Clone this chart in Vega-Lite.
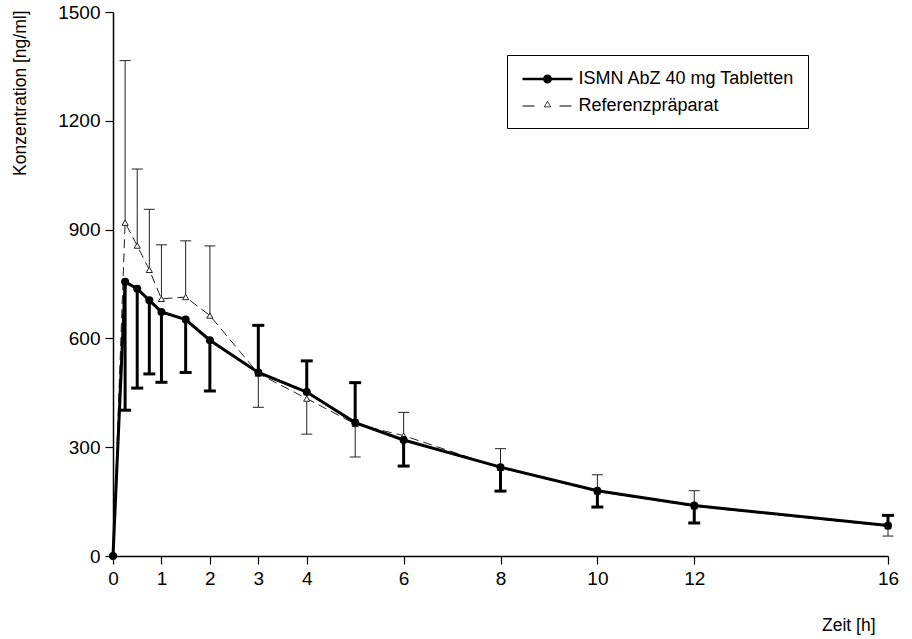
{
  "$schema": "https://vega.github.io/schema/vega-lite/v6.json",
  "width": 775,
  "height": 544,
  "autosize": {"type": "none"},
  "padding": {"left": 113, "top": 12, "right": 24, "bottom": 83},
  "background": "white",
  "config": {
    "view": {"stroke": null},
    "font": "Liberation Sans",
    "axis": {
      "grid": false,
      "domainColor": "black",
      "domainWidth": 1.5,
      "tickColor": "black",
      "tickWidth": 1.2,
      "tickSize": 8,
      "labelFont": "Liberation Sans",
      "labelFontSize": 19,
      "labelColor": "black",
      "labelPadding": 5,
      "labelFlush": false,
      "labelOverlap": false,
      "format": "d",
      "titleFont": "Liberation Sans",
      "titleFontWeight": "normal",
      "titleFontSize": 17.5,
      "titleColor": "black"
    },
    "axisX": {
      "titleX": 762,
      "titleY": 69,
      "titleAlign": "right",
      "titleBaseline": "middle",
      "titleAnchor": "end"
    },
    "axisY": {
      "titleX": -93,
      "titleY": -2,
      "titleAngle": -90,
      "titleAlign": "right",
      "titleBaseline": "middle",
      "titleAnchor": "end"
    },
    "legend": {
      "labelFont": "Liberation Sans",
      "labelFontSize": 18,
      "labelColor": "black",
      "labelLimit": 0
    }
  },
  "data": {
    "values": [
      {"t": 0, "series": "ISMN AbZ 40 mg Tabletten", "mean": 0, "bar": null},
      {"t": 0.25, "series": "ISMN AbZ 40 mg Tabletten", "mean": 756, "bar": 402},
      {"t": 0.5, "series": "ISMN AbZ 40 mg Tabletten", "mean": 737, "bar": 463},
      {"t": 0.75, "series": "ISMN AbZ 40 mg Tabletten", "mean": 705, "bar": 502},
      {"t": 1, "series": "ISMN AbZ 40 mg Tabletten", "mean": 673, "bar": 479},
      {"t": 1.5, "series": "ISMN AbZ 40 mg Tabletten", "mean": 652, "bar": 506},
      {"t": 2, "series": "ISMN AbZ 40 mg Tabletten", "mean": 595, "bar": 455},
      {"t": 3, "series": "ISMN AbZ 40 mg Tabletten", "mean": 506, "bar": 636},
      {"t": 4, "series": "ISMN AbZ 40 mg Tabletten", "mean": 452, "bar": 538},
      {"t": 5, "series": "ISMN AbZ 40 mg Tabletten", "mean": 368, "bar": 478},
      {"t": 6, "series": "ISMN AbZ 40 mg Tabletten", "mean": 320, "bar": 248},
      {"t": 8, "series": "ISMN AbZ 40 mg Tabletten", "mean": 245, "bar": 179},
      {"t": 10, "series": "ISMN AbZ 40 mg Tabletten", "mean": 180, "bar": 135},
      {"t": 12, "series": "ISMN AbZ 40 mg Tabletten", "mean": 139, "bar": 91},
      {"t": 16, "series": "ISMN AbZ 40 mg Tabletten", "mean": 84, "bar": 112},
      {"t": 0, "series": "Referenzpräparat", "mean": 0, "bar": null},
      {"t": 0.25, "series": "Referenzpräparat", "mean": 919, "bar": 1366},
      {"t": 0.5, "series": "Referenzpräparat", "mean": 856, "bar": 1067},
      {"t": 0.75, "series": "Referenzpräparat", "mean": 789, "bar": 956},
      {"t": 1, "series": "Referenzpräparat", "mean": 709, "bar": 858},
      {"t": 1.5, "series": "Referenzpräparat", "mean": 714, "bar": 869},
      {"t": 2, "series": "Referenzpräparat", "mean": 663, "bar": 855},
      {"t": 3, "series": "Referenzpräparat", "mean": 503, "bar": 410},
      {"t": 4, "series": "Referenzpräparat", "mean": 434, "bar": 336},
      {"t": 5, "series": "Referenzpräparat", "mean": 364, "bar": 273},
      {"t": 6, "series": "Referenzpräparat", "mean": 332, "bar": 396},
      {"t": 8, "series": "Referenzpräparat", "mean": 243, "bar": 296},
      {"t": 10, "series": "Referenzpräparat", "mean": 178, "bar": 224},
      {"t": 12, "series": "Referenzpräparat", "mean": 137, "bar": 180},
      {"t": 16, "series": "Referenzpräparat", "mean": 82, "bar": 55}
    ]
  },
  "encoding": {
    "x": {
      "field": "t", "type": "quantitative",
      "scale": {"domain": [0, 16], "nice": false, "zero": false},
      "axis": {"values": [0, 1, 2, 3, 4, 6, 8, 10, 12, 16], "title": "Zeit [h]", "labelFlush": false}
    }
  },
  "layer": [
    {
      "transform": [{"filter": "datum.series === 'Referenzpräparat'"}],
      "mark": {"type": "line", "color": "#222", "strokeWidth": 1, "strokeDash": [9, 5]},
      "encoding": {
        "y": {
          "field": "mean", "type": "quantitative",
          "scale": {"domain": [0, 1500], "nice": false},
          "axis": {"values": [0, 300, 600, 900, 1200, 1500], "title": "Konzentration [ng/ml]"}
        }
      }
    },
    {
      "transform": [{"filter": "datum.series === 'Referenzpräparat' && datum.bar != null"}],
      "mark": {"type": "rule", "color": "#222", "strokeWidth": 1},
      "encoding": {
        "y": {"field": "mean", "type": "quantitative", "axis": {"values": [0, 300, 600, 900, 1200, 1500], "title": "Konzentration [ng/ml]"}},
        "y2": {"field": "bar"}
      }
    },
    {
      "transform": [{"filter": "datum.series === 'Referenzpräparat' && datum.bar != null"}],
      "mark": {"type": "tick", "orient": "horizontal", "color": "#222", "thickness": 1, "size": 11, "opacity": 1},
      "encoding": {
        "y": {"field": "bar", "type": "quantitative", "axis": {"values": [0, 300, 600, 900, 1200, 1500], "title": "Konzentration [ng/ml]"}}
      }
    },
    {
      "transform": [{"filter": "datum.series === 'ISMN AbZ 40 mg Tabletten' && datum.bar != null"}],
      "mark": {"type": "rule", "color": "black", "strokeWidth": 3},
      "encoding": {
        "y": {"field": "mean", "type": "quantitative", "axis": {"values": [0, 300, 600, 900, 1200, 1500], "title": "Konzentration [ng/ml]"}},
        "y2": {"field": "bar"}
      }
    },
    {
      "transform": [{"filter": "datum.series === 'ISMN AbZ 40 mg Tabletten' && datum.bar != null"}],
      "mark": {"type": "tick", "orient": "horizontal", "color": "black", "thickness": 3, "size": 12, "opacity": 1},
      "encoding": {
        "y": {"field": "bar", "type": "quantitative", "axis": {"values": [0, 300, 600, 900, 1200, 1500], "title": "Konzentration [ng/ml]"}}
      }
    },
    {
      "transform": [{"filter": "datum.series === 'ISMN AbZ 40 mg Tabletten'"}],
      "mark": {"type": "line", "color": "black", "strokeWidth": 3},
      "encoding": {
        "y": {"field": "mean", "type": "quantitative", "axis": {"values": [0, 300, 600, 900, 1200, 1500], "title": "Konzentration [ng/ml]"}}
      }
    },
    {
      "transform": [{"filter": "datum.series === 'Referenzpräparat' && datum.t > 0"}],
      "mark": {"type": "point", "shape": "triangle-up", "size": 38, "filled": true, "fill": "white", "stroke": "#222", "strokeWidth": 1, "opacity": 1},
      "encoding": {
        "y": {"field": "mean", "type": "quantitative", "axis": {"values": [0, 300, 600, 900, 1200, 1500], "title": "Konzentration [ng/ml]"}}
      }
    },
    {
      "transform": [{"filter": "datum.series === 'ISMN AbZ 40 mg Tabletten'"}],
      "mark": {"type": "circle", "size": 64, "color": "black", "opacity": 1},
      "encoding": {
        "y": {"field": "mean", "type": "quantitative", "axis": {"values": [0, 300, 600, 900, 1200, 1500], "title": "Konzentration [ng/ml]"}}
      }
    },
    {
      "transform": [{"filter": "datum.t < 0"}],
      "mark": {"type": "point", "filled": true, "color": "black", "opacity": 1},
      "encoding": {
        "x": {"field": "t", "type": "quantitative"},
        "shape": {
          "field": "series", "type": "nominal",
          "scale": {
            "domain": ["ISMN AbZ 40 mg Tabletten", "Referenzpräparat"],
            "range": [
              "M-2.5,-0.13H2.5V0.13H-2.5Z M-0.45,0A0.45,0.45 0 1,1 0.45,0A0.45,0.45 0 1,1 -0.45,0Z",
              "M-2.5,-0.06H-1.3V0.06H-2.5Z M1.2,-0.06H2.4V0.06H1.2Z M-0.38,0.12L0,-0.52L0.38,0.12Z M-0.27,0.06L0.27,0.06L0,-0.39Z"
            ]
          },
          "legend": {
            "title": null,
            "orient": "none",
            "legendX": 394,
            "legendY": 43,
            "strokeColor": "black",
            "fillColor": "white",
            "padding": 13,
            "rowPadding": 7,
            "symbolSize": 400,
            "symbolOffset": 16.5,
            "labelOffset": 20,
            "labelFontSize": 18,
            "labelLimit": 0
          }
        }
      }
    }
  ]
}
